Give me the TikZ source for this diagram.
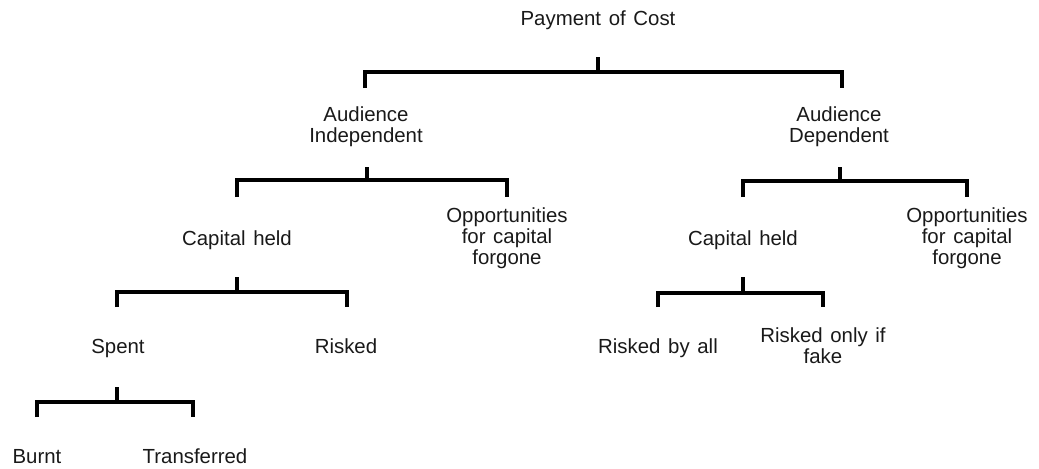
\documentclass[tikz,border=0pt]{standalone}
\usepackage{fontspec}
\setmainfont{Liberation Sans}[WordSpace=1.35]
\usetikzlibrary{calc}
\tikzset{
  lbl/.style={font=\fontsize{15.3pt}{15.8pt}\selectfont, align=center, inner sep=0pt, text=black!90},
  one/.style={lbl, text height=11.2pt, text depth=3.2pt},
  bar/.style={line width=3pt, draw=black, line join=miter}
}
\begin{document}
\begin{tikzpicture}[x=0.75pt, y=-0.75pt]
\useasboundingbox (0,0) rectangle (1039,468);
% nodes
\node[one] (root) at (598,19.7) {Payment of Cost};
\node[lbl] (ai) at (366,127) {Audience\\Independent};
\node[lbl] (ad) at (839,127) {Audience\\Dependent};
\node[one] (lcap) at (237,239.7) {Capital held};
\node[lbl] (lopp) at (507,238) {Opportunities\\for capital\\forgone};
\node[one] (rcap) at (743,239.7) {Capital held};
\node[lbl] (ropp) at (967,238) {Opportunities\\for capital\\forgone};
\node[one] (spent) at (118,347.7) {Spent};
\node[one] (risked) at (346,347.7) {Risked};
\node[one] (rall) at (658,347.7) {Risked by all};
\node[lbl] (rfake) at (823,345.5) {Risked only if\\fake};
\node[one] (burnt) at (37,457.7) {Burnt};
\node[one] (transf) at (195,457.7) {Transferred};
% brackets
\draw[bar] ($(root)+(0,37.3)$) -- ($(root)+(0,52.3)$);
\draw[bar] ($(ai)+(-1,-39)$) |- ($(root)+(0,52.3)$) -| ($(ad)+(3,-39)$);

\draw[bar] ($(ai)+(1,40)$) -- ($(ai)+(1,53)$);
\draw[bar] ($(lcap)+(0,-42.7)$) |- ($(ai)+(1,53)$) -| ($(lopp)+(0,-41)$);

\draw[bar] ($(ad)+(1,40)$) -- ($(ad)+(1,54)$);
\draw[bar] ($(rcap)+(0,-42.7)$) |- ($(ad)+(1,54)$) -| ($(ropp)+(0,-41)$);

\draw[bar] ($(lcap)+(0,37.3)$) -- ($(lcap)+(0,52.3)$);
\draw[bar] ($(spent)+(-1,-40.7)$) |- ($(lcap)+(0,52.3)$) -| ($(risked)+(1,-40.7)$);

\draw[bar] ($(rcap)+(0,37.3)$) -- ($(rcap)+(0,53.3)$);
\draw[bar] ($(rall)+(0,-40.7)$) |- ($(rcap)+(0,53.3)$) -| ($(rfake)+(0,-38.5)$);

\draw[bar] ($(spent)+(-1,39.3)$) -- ($(spent)+(-1,54.3)$);
\draw[bar] ($(burnt)+(0,-40.7)$) |- ($(spent)+(-1,54.3)$) -| ($(transf)+(-2,-40.7)$);
\end{tikzpicture}
\end{document}
